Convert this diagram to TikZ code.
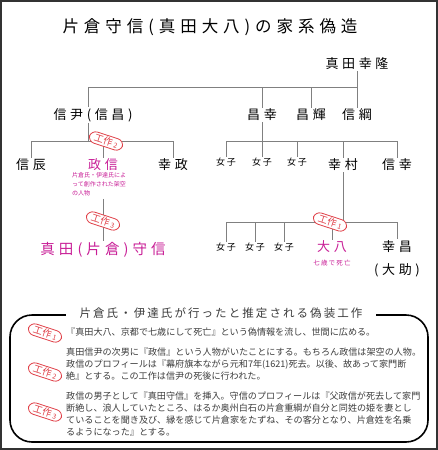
\documentclass[tikz,border=0pt]{standalone}
\usepackage{fontspec}
\setmainfont{Noto Sans CJK JP}
\newfontfamily\titlefont[LetterSpace=30]{Noto Sans CJK JP}
\newfontfamily\namefont[LetterSpace=28]{Noto Sans CJK JP}
\newfontfamily\smallfont[LetterSpace=18]{Noto Sans CJK JP}
\definecolor{linegray}{RGB}{128,128,128}
\definecolor{fakepink}{RGB}{200,30,150}
\definecolor{badgered}{RGB}{224,64,72}
\definecolor{textgray}{RGB}{60,60,60}
\newcommand\kosaku[1]{工作\,{\fontsize{7}{7}\selectfont #1}}

\begin{document}
\begin{tikzpicture}[x=1pt,y=-1pt,
    tree/.style={draw=linegray,line width=0.9pt},
    person/.style={font=\namefont\fontsize{13}{13}\selectfont,inner sep=1pt},
    girl/.style={font=\smallfont\fontsize{9}{9}\selectfont,inner sep=1pt},
    fake/.style={person,text=fakepink},
    badge/.style={draw=badgered,fill=white,text=badgered,line width=0.8pt,
      rounded corners=6.5pt,rotate=-18,inner xsep=5pt,inner ysep=1.5pt,
      font=\fontsize{9.5}{9.5}\selectfont},
    story/.style={font=\fontsize{9.1}{12}\selectfont,text=textgray,
      align=left,inner sep=0pt,anchor=north west}]
  \useasboundingbox (0,0) rectangle (438,450);
  % Frame
  \draw[line width=2pt,black!80] (1,1) rectangle (437,449);
  % Title
  \node[font=\titlefont\fontsize{16.5}{16.5}\selectfont] (title) at (210,27)
    {片倉守信(真田大八)の家系偽造};

  % Generation 1 and 2
  \node[person] (yukitaka) at (357,64) {真田幸隆};
  \node[person] (nobutada) at (93,115) {信尹(信昌)};
  \node[person] (masayuki) at (262,115) {昌幸};
  \node[person] (masateru) at (311,115) {昌輝};
  \node[person] (nobutsuna) at (357,115) {信綱};
  \coordinate (bus1) at (357,87);
  \coordinate (bus1l) at (88,87);
  \draw[tree] (yukitaka.south) -- (bus1) -- (bus1l) -- (bus1l |- nobutada.north);
  \foreach \n in {masayuki,masateru,nobutsuna}
    \draw[tree] (\n.north) -- (\n |- bus1);

  % Children of Nobutada
  \node[person] (nobutoki) at (31,165) {信辰};
  \node[fake] (masanobu) at (103,165) {政信};
  \node[person] (yukimasa) at (173,165) {幸政};
  \coordinate (bus2) at (88,141);
  \draw[tree] (bus2 |- nobutada.south) -- (bus2);
  \draw[tree] (nobutoki.north) -- (nobutoki |- bus2) -- (yukimasa |- bus2) -- (yukimasa.north);
  \draw[tree] (masanobu.north) -- (masanobu |- bus2);
  \node[badge] (work2) at (106,141) {\kosaku{2}};
  \node[font=\fontsize{6}{9}\selectfont,text=fakepink,align=left,inner sep=0pt,
    anchor=north west] (fakenote) at (72,172)
    {片倉氏・伊達氏によ\\って創作された架空\\の人物};
  \node[fake,font=\namefont\fontsize{14.5}{14.5}\selectfont,anchor=center] (morinobu) at (103,250)
    {真田(片倉)守信};
  \draw[tree] (fakenote.south -| morinobu) ++(0,3) -- (morinobu.north);
  \node[badge] (work3) at (103,221) {\kosaku{3}};

  % Children of Masayuki
  \node[girl] (girla) at (226,162) {女子};
  \node[girl] (girlb) at (262,162) {女子};
  \node[girl] (girlc) at (297,162) {女子};
  \node[person] (yukimura) at (343,165) {幸村};
  \node[person] (nobuyuki) at (397,165) {信幸};
  \coordinate (bus3) at (262,141);
  \draw[tree] (masayuki.south) -- (bus3);
  \draw[tree] (girla.north) -- (girla |- bus3) -- (nobuyuki |- bus3) -- (nobuyuki.north);
  \foreach \n in {girlb,girlc,yukimura}
    \draw[tree] (\n.north) -- (\n |- bus3);

  % Children of Yukimura
  \node[girl] (girld) at (226,247) {女子};
  \node[girl] (girle) at (255,247) {女子};
  \node[girl] (girlf) at (284,247) {女子};
  \node[fake] (daihachi) at (332,247) {大八};
  \node[person,align=center,anchor=north,font=\namefont\fontsize{13}{23}\selectfont]
    (yukimasb) at (397,239) {幸昌\\(大助)};
  \node[font=\smallfont\fontsize{6.5}{6.5}\selectfont,text=fakepink] (diednote) at (332,263) {七歳で死亡};
  \coordinate (bus4) at (343,222);
  \draw[tree] (yukimura.south) -- (bus4);
  \draw[tree] (girld.north) -- (girld |- bus4) -- (yukimasb.north |- bus4) -- (yukimasb.north);
  \foreach \n in {girle,girlf,daihachi}
    \draw[tree] (\n.north) -- (\n |- bus4);
  \node[badge] (work1) at (330,222) {\kosaku{1}};

  % Box of the forgeries
  \draw[line width=1.6pt,rounded corners=22pt] (10,315) rectangle (428,442);
  \node[fill=white,inner xsep=14pt,text=textgray,
    font=\smallfont\fontsize{11.5}{11.5}\selectfont] (boxhead) at (221,313)
    {片倉氏・伊達氏が行ったと推定される偽装工作};
  \node[badge] (item1) at (45,333) {\kosaku{1}};
  \node[badge] (item2) at (45,372) {\kosaku{2}};
  \node[badge] (item3) at (45,412) {\kosaku{3}};
  \node[story] (story1) at (66,328)
    {『真田大八、京都で七歳にして死亡』という偽情報を流し、世間に広める。};
  \node[story] (story2) at (66,348)
    {真田信尹の次男に『政信』という人物がいたことにする。もちろん政信は架空の人物。\\
     政信のプロフィールは『幕府旗本ながら元和7年(1621)死去。以後、故あって家門断\\
     絶』とする。この工作は信尹の死後に行われた。};
  \node[story] (story3) at (66,392)
    {政信の男子として『真田守信』を挿入。守信のプロフィールは『父政信が死去して家門\\
     断絶し、浪人していたところ、はるか奥州白石の片倉重綱が自分と同姓の姫を妻とし\\
     ていることを聞き及び、縁を感じて片倉家をたずね、その客分となり、片倉姓を名乗\\
     るようになった』とする。};
\end{tikzpicture}
\end{document}
